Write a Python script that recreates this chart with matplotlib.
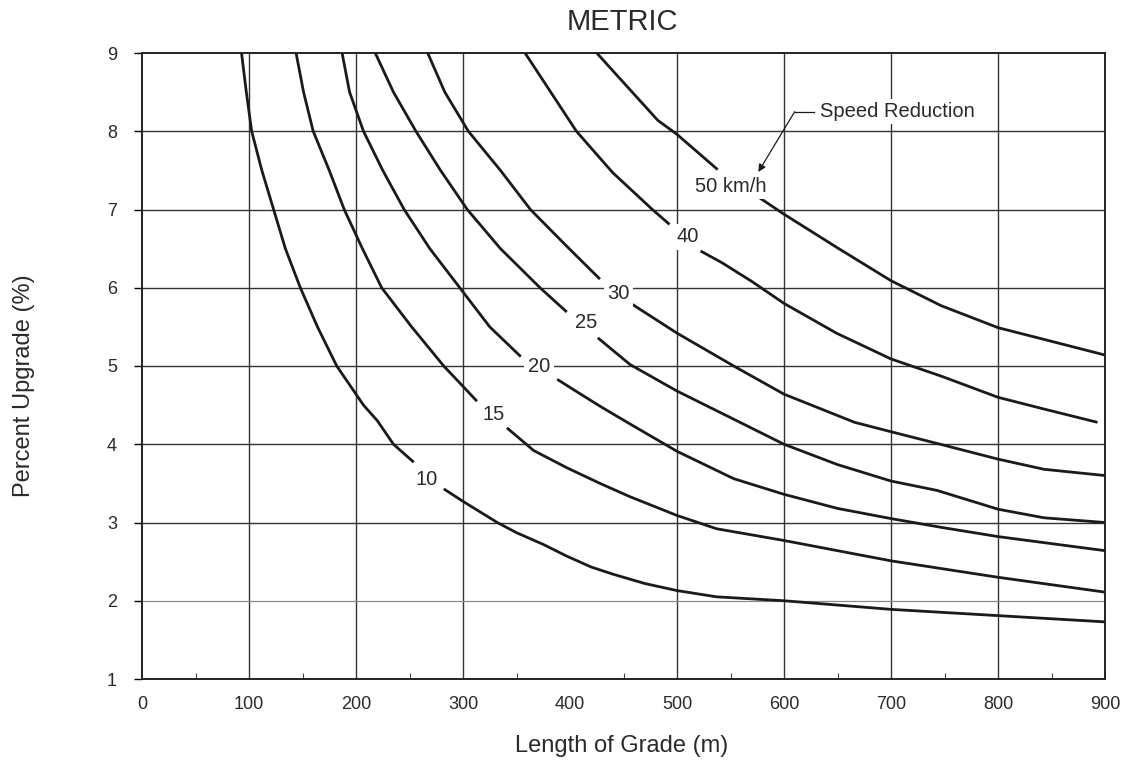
import numpy as np
import matplotlib
matplotlib.use("Agg")
import matplotlib.pyplot as plt
from matplotlib.ticker import MultipleLocator

plt.rcParams["font.family"] = ["Liberation Sans", "DejaVu Sans"]

nan = np.nan

# speed reduction curves (km/h); nan = gap where the label sits
speeds = [10, 15, 20, 25, 30, 40, 50]

len_10 = [93, 97.5, 102.5, 112, 123, 134, 148, 164, 182, 207, 220, 235, 254, nan,
          282, 300, 332, 350, 375, 397, 420, 440, 470, 500, 537, 600, 700, 800, 900]
grade_10 = [9.0, 8.5, 8.0, 7.5, 7.0, 6.5, 6.0, 5.5, 5.0, 4.5, 4.3, 4.0, 3.77, nan,
            3.43, 3.27, 3.0, 2.87, 2.72, 2.57, 2.43, 2.34, 2.22, 2.13, 2.05, 2.0, 1.89, 1.81, 1.73]

len_15 = [144, 151, 160, 175, 189, 206, 224, 252, 282, 300, 313, nan,
          341, 366, 397, 428, 456, 500, 537, 600, 700, 800, 900]
grade_15 = [9.0, 8.5, 8.0, 7.5, 7.0, 6.5, 6.0, 5.5, 5.0, 4.74, 4.55, nan,
            4.21, 3.92, 3.70, 3.50, 3.33, 3.09, 2.92, 2.77, 2.51, 2.30, 2.11]

len_20 = [187, 194, 207, 225, 245, 269, 297, 325, 354, nan,
          388, 410, 430, 456, 500, 553, 600, 650, 700, 746, 800, 850, 900]
grade_20 = [9.0, 8.5, 8.0, 7.5, 7.0, 6.5, 6.0, 5.5, 5.12, nan,
            4.83, 4.64, 4.47, 4.26, 3.91, 3.56, 3.36, 3.18, 3.05, 2.94, 2.82, 2.73, 2.64]

len_25 = [218, 235, 256, 279, 304, 335, 372, 397, nan,
          426, 456, 500, 553, 600, 650, 700, 743, 800, 843, 900]
grade_25 = [9.0, 8.5, 8.0, 7.5, 7.0, 6.5, 6.0, 5.69, nan,
            5.36, 5.02, 4.68, 4.32, 4.0, 3.74, 3.53, 3.41, 3.17, 3.06, 3.0]

len_30 = [267, 283, 305, 335, 363, 397, 428, nan,
          458, 500, 553, 600, 666, 700, 746, 800, 843, 900]
grade_30 = [9.0, 8.5, 8.0, 7.5, 7.0, 6.53, 6.11, nan,
            5.79, 5.42, 5.0, 4.64, 4.28, 4.16, 4.0, 3.81, 3.68, 3.60]

len_40 = [358, 406, 440, 477, 493, nan, 522, 542, 570, 600, 649, 700, 747, 800, 843, 893]
grade_40 = [9.0, 8.0, 7.47, 7.0, 6.81, nan, 6.47, 6.32, 6.08, 5.80, 5.42, 5.09, 4.87, 4.60, 4.45, 4.28]

len_50 = [425, 482, 500, 538, nan, 576, 600, 650, 700, 747, 800, 843, 900]
grade_50 = [9.0, 8.14, 7.96, 7.51, nan, 7.16, 6.94, 6.51, 6.09, 5.77, 5.49, 5.34, 5.14]

curves = [
    (len_10, grade_10), (len_15, grade_15), (len_20, grade_20), (len_25, grade_25),
    (len_30, grade_30), (len_40, grade_40), (len_50, grade_50),
]
label_text = ["10", "15", "20", "25", "30", "40", "50 km/h"]
label_pos = [(266, 3.55), (329, 4.38), (371, 4.99), (415, 5.55), (445, 5.93), (510, 6.65), (550, 7.30)]

x_ticks = [0, 100, 200, 300, 400, 500, 600, 700, 800, 900]
x_grid = [100, 200, 300, 500, 600, 700, 800]  # no 400 line on the original
y_ticks = [1, 2, 3, 4, 5, 6, 7, 8, 9]

INK = "#1a1a1a"
TXT = "#2a2a2a"

fig = plt.figure(figsize=(11.27, 7.69), dpi=100)
ax = fig.add_axes([142 / 1127, 1 - 679 / 769, (1105 - 142) / 1127, (679 - 53) / 769])

for gx in x_grid:
    ax.axvline(gx, color="#333333", lw=1.0, zorder=1)
for gy in y_ticks[1:-1]:
    if gy == 2:
        ax.axhline(gy, color="#8a8a8a", lw=0.9, zorder=1)
    else:
        ax.axhline(gy, color="#333333", lw=1.0, zorder=1)

for xs, ys in curves:
    ax.plot(xs, ys, color=INK, lw=2.0, solid_capstyle="butt", solid_joinstyle="round", zorder=3)

for txt, (lx, ly) in zip(label_text, label_pos):
    ax.text(lx, ly, txt, fontsize=14.5, color=TXT, ha="center", va="center", zorder=4,
            bbox=dict(facecolor="white", edgecolor="none", pad=2.5))

# speed reduction leader
ax.text(634, 8.25, "Speed Reduction", fontsize=14.5, color=TXT, ha="left", va="center", zorder=4,
        bbox=dict(facecolor="white", edgecolor="none", pad=2.0))
ax.plot([628, 610], [8.25, 8.25], color=INK, lw=0.9, zorder=4)
ax.annotate("", xy=(576, 7.48), xytext=(610, 8.25), zorder=4,
            arrowprops=dict(arrowstyle="-|>", color=INK, lw=0.9, mutation_scale=11,
                            shrinkA=0, shrinkB=0))

ax.set_xlim(0, 900)
ax.set_ylim(1, 9)
ax.set_xticks(x_ticks)
ax.set_yticks(y_ticks)
ax.xaxis.set_minor_locator(MultipleLocator(50))
ax.tick_params(axis="x", which="major", length=0, pad=12, labelsize=13, labelcolor=TXT)
ax.tick_params(axis="x", which="minor", direction="in", length=4, width=0.8, color="#444444")
ax.tick_params(axis="y", which="major", direction="out", length=6, width=1.0, pad=12,
               labelsize=13, labelcolor=TXT)
for sp in ax.spines.values():
    sp.set_linewidth(1.4)
    sp.set_color("#222222")

fig.text(622 / 1127, 1 - 22 / 769, "METRIC", fontsize=21, color=TXT, ha="center", va="center")
fig.text(622 / 1127, 1 - 746 / 769, "Length of Grade (m)", fontsize=17, color=TXT,
         ha="center", va="center")
fig.text(24 / 1127, 1 - 386 / 769, "Percent Upgrade (%)", fontsize=17, color=TXT,
         ha="center", va="center", rotation=90)

fig.savefig("out.png", dpi=100)
